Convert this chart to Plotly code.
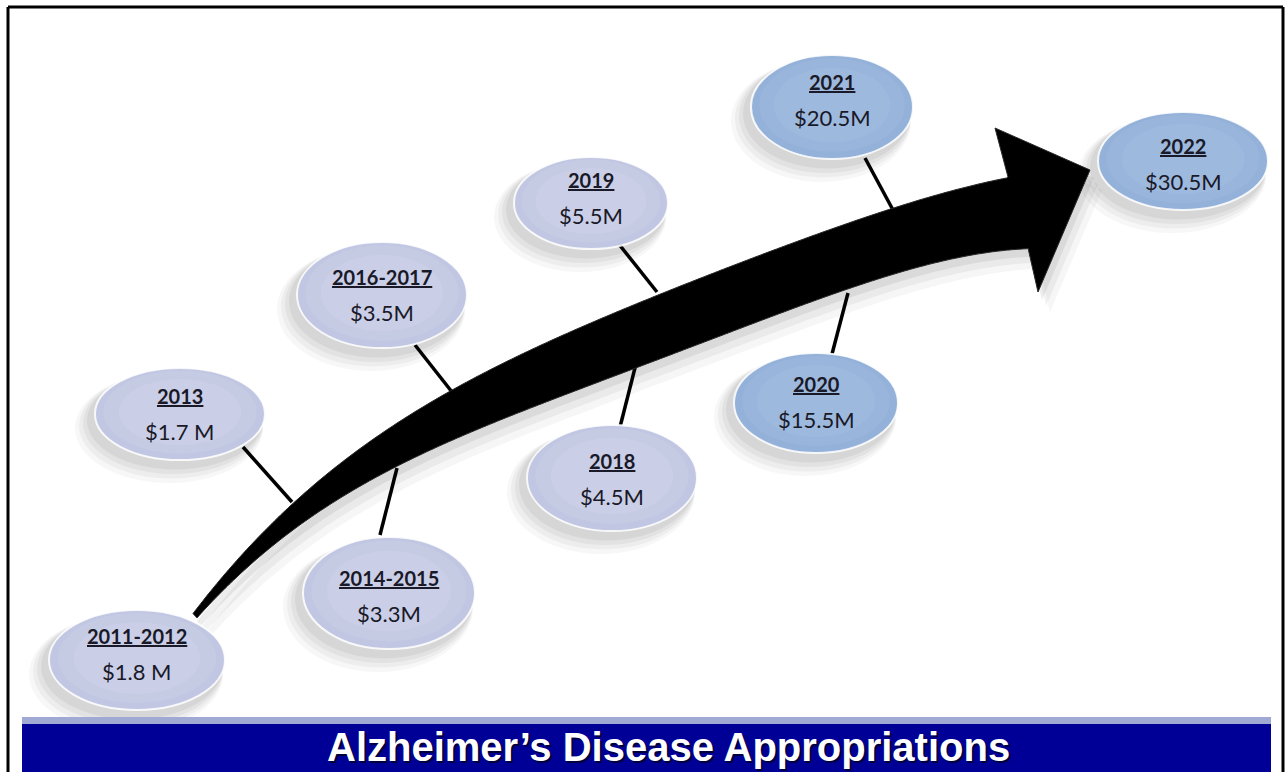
import numpy as np
import plotly.graph_objects as go

# ---------------- data ----------------
periods = ["2011-2012", "2013", "2014-2015", "2016-2017", "2018", "2019", "2020", "2021", "2022"]
amount_labels = ["$1.8 M", "$1.7 M", "$3.3M", "$3.5M", "$4.5M", "$5.5M", "$15.5M", "$20.5M", "$30.5M"]
title_text = "Alzheimer\u2019s Disease Appropriations"

# ---------------- layout geometry (pixel space of the slide) ----------------
W, H = 1286, 772
ell_cx = [137, 180, 389, 382, 612, 591, 816, 832, 1183]
ell_cy = [660, 414, 593, 295, 478, 203, 403, 107, 161]
ell_rx = [88, 85, 86, 85, 85, 77, 82, 81, 85]
ell_ry = [50, 46, 56, 53, 53, 46, 50, 52, 49]
ell_tone = ["light"] * 6 + ["blue"] * 3
text_dy = [-7, -1, 2, -1, 0, -6, -2, -8, 2]

# connector lines: (x0, y0, x1, y1) from bubble edge to arrow edge
conn_x0 = [243, 380, 415, 620, 618, 832, 865]
conn_y0 = [447, 535, 345, 427, 243, 354, 158]
conn_x1 = [292, 397, 452, 637, 657, 848, 893]
conn_y1 = [502, 468, 392, 360, 292, 293, 210]

# arrow outline control points
top_edge_x = [193, 240, 292, 397, 452, 500, 657, 893, 1008]
top_edge_y = [615, 556, 502, 423, 392, 367, 292, 210, 177]
bot_edge_x = [197, 240, 292, 340, 397, 500, 637, 750, 848, 1028]
bot_edge_y = [620, 574, 526, 497, 468, 427, 362, 322, 293, 248]
head_x = [1008, 995, 1090, 1038, 1028]
head_y = [177, 128, 170, 292, 248]

TONES = {
    "light": ["rgb(193,199,226)", "rgb(198,203,228)", "rgb(202,207,231)"],
    "blue": ["rgb(148,177,217)", "rgb(153,181,219)", "rgb(158,185,222)"],
}


def smooth_edge(xs, ys, deg=4, step=2.0):
    coef = np.polyfit(xs, ys, deg)
    xx = np.arange(xs[0], xs[-1] + 0.01, step)
    yy = np.polyval(coef, xx)
    return list(zip(xx, yy))


def arrow_path(dx=0.0, dy=0.0):
    top = smooth_edge(top_edge_x, top_edge_y)
    bot = smooth_edge(bot_edge_x, bot_edge_y)[::-1]
    pts = top + list(zip(head_x[:], head_y[:])) + bot
    return "M " + " L ".join(f"{x + dx:.1f},{y + dy:.1f}" for x, y in pts) + " Z"


shapes = []

# bubble shadows
for cx, cy, rx, ry in zip(ell_cx, ell_cy, ell_rx, ell_ry):
    for k, a in [(1, 0.07), (2, 0.06), (3, 0.05), (4, 0.04)]:
        ox, oy, g = -3 - 2 * k, 4 + 2.5 * k, 1 + 2 * k
        shapes.append(dict(type="circle", xref="x", yref="y",
                           x0=cx - rx + ox - g, x1=cx + rx + ox + g,
                           y0=cy - ry + oy - g, y1=cy + ry + oy + g,
                           fillcolor=f"rgba(60,60,60,{a})", line=dict(width=0)))

# arrow shadow
for (dx, dy, a) in [(4, 8, 0.10), (8, 14, 0.07), (12, 20, 0.05)]:
    shapes.append(dict(type="path", xref="x", yref="y", path=arrow_path(dx, dy),
                       fillcolor=f"rgba(80,80,80,{a})", line=dict(width=0)))

# connectors
for x0, y0, x1, y1 in zip(conn_x0, conn_y0, conn_x1, conn_y1):
    shapes.append(dict(type="line", xref="x", yref="y", x0=x0, y0=y0, x1=x1, y1=y1,
                       line=dict(color="black", width=3.5)))

# arrow
shapes.append(dict(type="path", xref="x", yref="y", path=arrow_path(),
                   fillcolor="black", line=dict(color="rgb(40,40,40)", width=1)))

# bubbles with soft pseudo-gradient
for cx, cy, rx, ry, tone in zip(ell_cx, ell_cy, ell_rx, ell_ry, ell_tone):
    c = TONES[tone]
    shapes.append(dict(type="circle", xref="x", yref="y",
                       x0=cx - rx, x1=cx + rx, y0=cy - ry, y1=cy + ry,
                       fillcolor=c[0], line=dict(color="rgba(255,255,255,0.85)", width=2)))
    for s_, col in [(0.9, c[1]), (0.72, c[2])]:
        shapes.append(dict(type="circle", xref="x", yref="y",
                           x0=cx - rx * s_, x1=cx + rx * s_,
                           y0=cy - ry * s_ - 2, y1=cy + ry * s_ - 2,
                           fillcolor=col, line=dict(width=0)))

# title bar
shapes.append(dict(type="rect", xref="x", yref="y", x0=22, x1=1271, y0=717, y1=724,
                   fillcolor="rgb(160,168,212)", line=dict(width=0)))
shapes.append(dict(type="rect", xref="x", yref="y", x0=22, x1=1271, y0=724, y1=H + 2,
                   fillcolor="rgb(0,0,150)", line=dict(width=0)))

# frame
for x0, y0, x1, y1 in [(8, 7, 1283, 7), (8, 7, 8, H + 2), (1283, 7, 1283, H + 2)]:
    shapes.append(dict(type="line", xref="x", yref="y", x0=x0, y0=y0, x1=x1, y1=y1,
                       line=dict(color="black", width=3)))

annotations = []
FONT = "Lato, 'Open Sans', 'DejaVu Sans', sans-serif"
for p, a, cx, cy, dy in zip(periods, amount_labels, ell_cx, ell_cy, text_dy):
    annotations.append(dict(x=cx, y=cy + dy - 17, xref="x", yref="y", showarrow=False,
                            text=f"<b><u>{p}</u></b>",
                            font=dict(family=FONT, size=20, color="rgb(25,25,40)")))
    annotations.append(dict(x=cx, y=cy + dy + 18, xref="x", yref="y", showarrow=False,
                            text=a, font=dict(family=FONT, size=22, color="rgb(25,25,40)")))

# title (with slight shadow)
TFONT = "'Liberation Sans', Arial, sans-serif"
annotations.append(dict(x=670, y=749, xref="x", yref="y", showarrow=False,
                        text=f"<b>{title_text}</b>",
                        font=dict(family=TFONT, size=40, color="rgb(0,0,60)")))
annotations.append(dict(x=668, y=747, xref="x", yref="y", showarrow=False,
                        text=f"<b>{title_text}</b>",
                        font=dict(family=TFONT, size=40, color="white")))

fig = go.Figure()
fig.add_trace(go.Scatter(x=ell_cx, y=ell_cy, mode="markers", marker=dict(opacity=0),
                         hoverinfo="skip", showlegend=False))
fig.update_layout(
    width=W, height=H, margin=dict(l=0, r=0, t=0, b=0),
    paper_bgcolor="white", plot_bgcolor="white",
    xaxis=dict(range=[0, W], visible=False, fixedrange=True),
    yaxis=dict(range=[H, 0], visible=False, fixedrange=True),
    shapes=shapes, annotations=annotations, showlegend=False,
)
fig.write_html("out.html", config=dict(displayModeBar=False),
               post_script="document.body.style.margin='0';document.body.style.overflow='hidden';")
